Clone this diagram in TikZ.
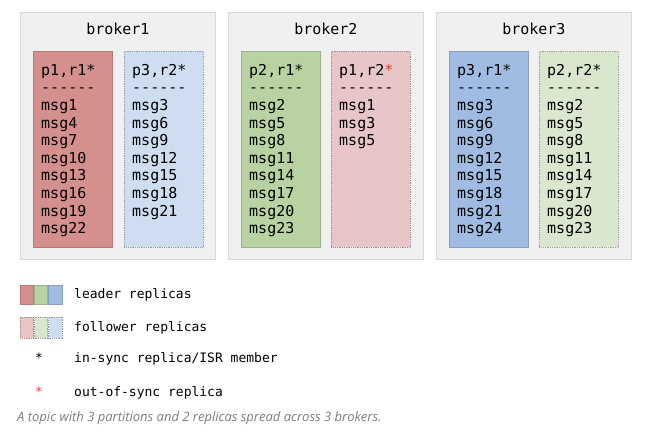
\documentclass[tikz,border=0pt]{standalone}
\usepackage{fontspec}
\setmonofont{DejaVu Sans Mono}
\newfontfamily\capfont{Open Sans}
\usetikzlibrary{positioning}

\definecolor{brkfill}{RGB}{240,240,240}
\definecolor{brkline}{RGB}{218,218,218}
\definecolor{ldred}{RGB}{213,143,141}
\definecolor{ldgreen}{RGB}{185,210,162}
\definecolor{ldblue}{RGB}{160,188,226}
\definecolor{flred}{RGB}{232,197,199}
\definecolor{flgreen}{RGB}{217,231,207}
\definecolor{flblue}{RGB}{206,222,240}
\definecolor{oosred}{RGB}{228,62,52}
\definecolor{capgray}{RGB}{125,125,125}

\begin{document}
\begin{tikzpicture}[x=1pt, y=-1pt,
    brk/.style={draw=brkline, fill=brkfill, line width=0.8pt, minimum width=195, minimum height=247, anchor=north west, inner sep=0},
    ttl/.style={font=\ttfamily\fontsize{15}{18}\selectfont, inner sep=0},
    col/.style={minimum width=79, minimum height=196, anchor=north west, inner sep=0, line width=0.8pt},
    lead/.style={col, draw=#1!85!black, fill=#1},
    foll/.style={col, draw=#1!70!black, densely dotted, fill=#1},
    msgs/.style={font=\ttfamily\fontsize{15}{17.6}\selectfont, align=left, inner sep=0},
    sw/.style={minimum width=13.33, inner sep=0, anchor=north west, line width=0.8pt},
    lgd/.style={font=\ttfamily\fontsize{13}{15}\selectfont, inner sep=0, anchor=base west},
    ]
\useasboundingbox[fill=white] (0,0) rectangle (647,437);

% brokers
\node[brk] (b1) at (20,12) {};
\node[brk] (b2) at (228,12) {};
\node[brk] (b3) at (436,12) {};
\node[ttl, below=11pt of b1.north] (b1t) {broker1};
\node[ttl, below=11pt of b2.north] (b2t) {broker2};
\node[ttl, below=11pt of b3.north] (b3t) {broker3};

% broker1
\node[lead=ldred] (p1r1) at (33,51) {};
\node[msgs, below right=13pt and 8pt of p1r1.north west] (p1r1t)
    {p1,r1*\\------\\msg1\\msg4\\msg7\\msg10\\msg13\\msg16\\msg19\\msg22};
\node[foll=flblue] (p3r2) at (124,51) {};
\node[msgs, below right=13pt and 8pt of p3r2.north west] (p3r2t)
    {p3,r2*\\------\\msg3\\msg6\\msg9\\msg12\\msg15\\msg18\\msg21};

% broker2
\node[lead=ldgreen] (p2r1) at (241,51) {};
\node[msgs, below right=13pt and 8pt of p2r1.north west] (p2r1t)
    {p2,r1*\\------\\msg2\\msg5\\msg8\\msg11\\msg14\\msg17\\msg20\\msg23};
\node[foll=flred] (p1r2) at (331,51) {};
\node[msgs, below right=13pt and 8pt of p1r2.north west] (p1r2t)
    {p1,r2\textcolor{oosred}{*}\\------\\msg1\\msg3\\msg5};

% broker3
\node[lead=ldblue] (p3r1) at (449,51) {};
\node[msgs, below right=13pt and 8pt of p3r1.north west] (p3r1t)
    {p3,r1*\\------\\msg3\\msg6\\msg9\\msg12\\msg15\\msg18\\msg21\\msg24};
\node[foll=flgreen] (p2r2) at (539,51) {};
\node[msgs, below right=13pt and 8pt of p2r2.north west] (p2r2t)
    {p2,r2*\\------\\msg2\\msg5\\msg8\\msg11\\msg14\\msg17\\msg20\\msg23};

% legend
\node[sw, minimum height=19, draw=ldred!85!black, fill=ldred] (lsw1) at (20,285) {};
\node[sw, minimum height=19, draw=ldgreen!85!black, fill=ldgreen, right=0pt of lsw1] (lsw2) {};
\node[sw, minimum height=19, draw=ldblue!85!black, fill=ldblue, right=0pt of lsw2] (lsw3) {};
\node[lgd] (lldr) at (74,298) {leader replicas};

\node[sw, minimum height=21, densely dotted, draw=flred!70!black, fill=flred] (fsw1) at (20,317) {};
\node[sw, minimum height=21, densely dotted, draw=flgreen!70!black, fill=flgreen, right=0pt of fsw1] (fsw2) {};
\node[sw, minimum height=21, densely dotted, draw=flblue!70!black, fill=flblue, right=0pt of fsw2] (fsw3) {};
\node[lgd] (lfol) at (74,331.5) {follower replicas};

\node[lgd, anchor=base] (isr) at (39,362.5) {*};
\node[lgd] (lisr) at (74,362.5) {in-sync replica/ISR member};
\node[lgd, anchor=base, text=oosred] (oos) at (39,396) {*};
\node[lgd] (loos) at (74,396) {out-of-sync replica};

\node[font=\capfont\itshape\fontsize{13}{15}\selectfont, text=capgray, inner sep=0, anchor=base west] (cap) at (17,421.5)
    {A topic with 3 partitions and 2 replicas spread across 3 brokers.};
\end{tikzpicture}
\end{document}
